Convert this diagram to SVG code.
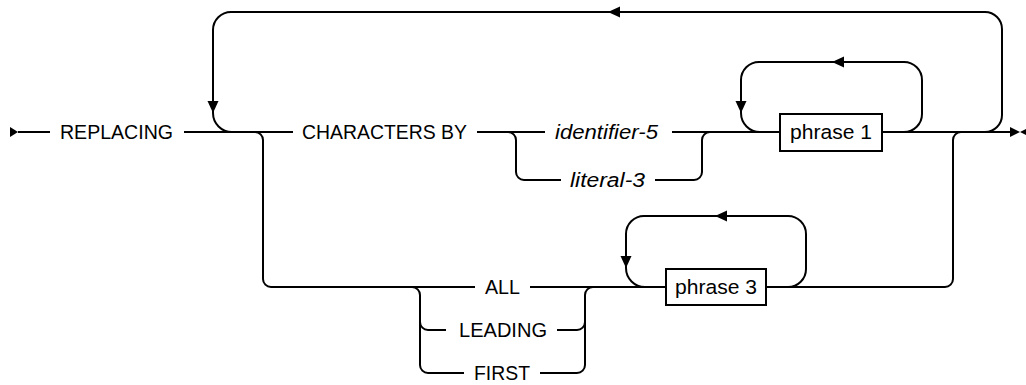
<svg xmlns="http://www.w3.org/2000/svg" width="1026" height="385" viewBox="0 0 1026 385">
<style>
.ln{fill:none;stroke:#000;stroke-width:2}
.ah{fill:#000;stroke:none}
.t{font-family:"Liberation Sans",Arial,sans-serif;font-size:20.5px;fill:#000}
.i{font-style:italic}
.box{fill:#fff;stroke:#000;stroke-width:2}
</style>
<rect width="1026" height="385" fill="#fff"/>
<g id="connectors">
<path class="ln" d="M18 132 H50"/>
<path class="ln" d="M184 132 H293"/>
<path class="ln" d="M985 132 A17 17 0 0 0 1002 115 V29 A17 17 0 0 0 985 12 H231 A18 18 0 0 0 213 30 V113 A19 19 0 0 0 232 132"/>
<path class="ln" d="M255 132 A8 8 0 0 1 263 140 V279 A8 8 0 0 0 271 287 H475"/>
<path class="ln" d="M477 132 H545"/>
<path class="ln" d="M508 132 A8 8 0 0 1 516 140 V172 A8 8 0 0 0 524 180 H561"/>
<path class="ln" d="M655 180 H694 A8 8 0 0 0 702 172 V140 A8 8 0 0 1 710 132"/>
<path class="ln" d="M672 132 H780"/>
<path class="ln" d="M760 132 A19 19 0 0 1 741 113 V80 A18 18 0 0 1 759 62 H904 A18 18 0 0 1 922 80 V114 A18 18 0 0 1 904 132"/>
<path class="ln" d="M882 132 H1012"/>
<path class="ln" d="M961 132 A8 8 0 0 0 953 140 V279 A8 8 0 0 1 945 287 H766"/>
<path class="ln" d="M530 287 H666"/>
<path class="ln" d="M412 287 A8 8 0 0 1 420 295 V365 A8 8 0 0 0 428 373 H464"/>
<path class="ln" d="M420 322 A8 8 0 0 0 428 330 H446"/>
<path class="ln" d="M557 330 H577 A8 8 0 0 0 585 322"/>
<path class="ln" d="M540 373 H577 A8 8 0 0 0 585 365 V295 A8 8 0 0 1 593 287"/>
<path class="ln" d="M645 287 A19 19 0 0 1 626 268 V234 A18 18 0 0 1 644 216 H788 A18 18 0 0 1 806 234 V269 A18 18 0 0 1 788 287"/>
<polygon class="ah" points="10,127 18,132 10,137"/>
<polygon class="ah" points="1010,127 1020,132 1010,137"/>
<polygon class="ah" points="1030,127 1020,132 1030,137"/>
<polygon class="ah" points="608,12 620,6.5 620,17.5"/>
<polygon class="ah" points="207.5,101 218.5,101 213,113"/>
<polygon class="ah" points="832,62 844,56.5 844,67.5"/>
<polygon class="ah" points="735.5,101 746.5,101 741,113"/>
<polygon class="ah" points="715,216 727,210.5 727,221.5"/>
<polygon class="ah" points="620.5,256 631.5,256 626,268"/>
</g>
<g id="replacing"><text class="t" x="60" y="138.5" textLength="113" lengthAdjust="spacingAndGlyphs">REPLACING</text></g>
<g id="characters-by"><text class="t" x="302" y="138.5" textLength="165" lengthAdjust="spacingAndGlyphs">CHARACTERS BY</text></g>
<g id="identifier-5"><text class="t i" x="555" y="138.5" textLength="103" lengthAdjust="spacingAndGlyphs">identifier-5</text></g>
<g id="literal-3"><text class="t i" x="570" y="186.5" textLength="75" lengthAdjust="spacingAndGlyphs">literal-3</text></g>
<g id="phrase-1"><rect class="box" x="780" y="114" width="102" height="37"/><text class="t" x="790" y="139" textLength="82" lengthAdjust="spacingAndGlyphs">phrase 1</text></g>
<g id="all"><text class="t" x="485" y="293.5" textLength="35" lengthAdjust="spacingAndGlyphs">ALL</text></g>
<g id="leading"><text class="t" x="459" y="336.5" textLength="88" lengthAdjust="spacingAndGlyphs">LEADING</text></g>
<g id="first"><text class="t" x="474" y="379.5" textLength="56" lengthAdjust="spacingAndGlyphs">FIRST</text></g>
<g id="phrase-3"><rect class="box" x="666" y="269" width="100" height="36"/><text class="t" x="675" y="293.5" textLength="82" lengthAdjust="spacingAndGlyphs">phrase 3</text></g>
</svg>
